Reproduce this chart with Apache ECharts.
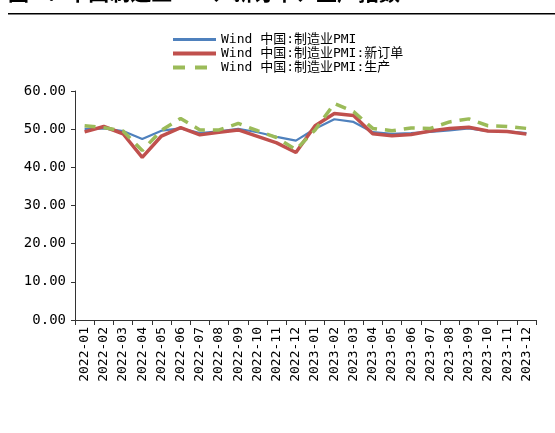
<!DOCTYPE html>
<html>
<head>
<meta charset="utf-8">
<script src="https://cdn.jsdelivr.net/npm/echarts@6/dist/echarts.min.js"></script>
<style>
  html, body { margin: 0; padding: 0; background: #fff; }
  #chart { width: 555px; height: 433px; }
</style>
</head>
<body>
<div id="chart"></div>
<script>
// Monthly categories
const months = [
  '2022-01','2022-02','2022-03','2022-04','2022-05','2022-06',
  '2022-07','2022-08','2022-09','2022-10','2022-11','2022-12',
  '2023-01','2023-02','2023-03','2023-04','2023-05','2023-06',
  '2023-07','2023-08','2023-09','2023-10','2023-11','2023-12'
];
// Manufacturing PMI
const pmi = [50.1, 50.2, 49.5, 47.4, 49.6, 50.2, 49.0, 49.4, 50.1, 49.2, 48.0, 47.0,
             50.1, 52.6, 51.9, 49.2, 48.8, 49.0, 49.3, 49.7, 50.2, 49.5, 49.4, 49.0];
// New orders sub-index
const newOrders = [49.3, 50.7, 48.8, 42.6, 48.2, 50.4, 48.5, 49.2, 49.8, 48.1, 46.4, 43.9,
                   50.9, 54.1, 53.6, 48.8, 48.3, 48.6, 49.5, 50.2, 50.5, 49.5, 49.4, 48.7];
// Production sub-index
const production = [50.9, 50.4, 49.5, 44.4, 49.7, 52.8, 49.8, 49.8, 51.5, 49.6, 47.8, 44.6,
                    49.8, 56.7, 54.6, 50.2, 49.6, 50.3, 50.2, 51.9, 52.7, 50.9, 50.7, 50.2];
// Series names
const names = ['Wind 中国:制造业PMI', 'Wind 中国:制造业PMI:新订单', 'Wind 中国:制造业PMI:生产'];
const titleText = '图 3：中国制造业PMI、新订单、生产指数';

const font = '"DejaVu Sans Mono", "Noto Sans CJK SC", monospace';
const cjk = '"Noto Sans CJK SC", sans-serif';
const chart = echarts.init(document.getElementById('chart'), null, { renderer: 'canvas' });

chart.setOption({
  animation: false,
  backgroundColor: '#ffffff',
  graphic: [
    {
      type: 'text', left: 8, top: -18,
      style: { text: titleText, font: 'bold 21px ' + cjk, fill: '#000' }
    },
    {
      type: 'rect', shape: { x: 8, y: 13, width: 547, height: 1.5 },
      style: { fill: '#000' }
    }
  ],
  legend: {
    orient: 'vertical',
    left: 166, top: 28,
    itemWidth: 43, itemHeight: 14, itemGap: 1,
    itemStyle: { opacity: 0 },
    textStyle: { fontFamily: font, fontSize: 13, color: '#000' },
    data: [
      { name: names[0], lineStyle: { width: 3 } },
      { name: names[1], lineStyle: { width: 4 } },
      { name: names[2], lineStyle: { width: 4, type: [12, 10] } }
    ]
  },
  grid: { left: 75, right: 19, top: 91, bottom: 113 },
  xAxis: {
    type: 'category',
    data: months,
    boundaryGap: true,
    axisLine: { lineStyle: { color: '#333', width: 1 } },
    axisTick: { show: true, length: 5, interval: 0, lineStyle: { color: '#333' } },
    axisLabel: { rotate: 90, interval: 0, fontFamily: font, fontSize: 13, color: '#000', margin: 7 },
    splitLine: { show: false }
  },
  yAxis: {
    type: 'value',
    min: 0, max: 60, interval: 10,
    axisLine: { show: true, lineStyle: { color: '#333', width: 1 } },
    axisTick: { show: true, length: 4, lineStyle: { color: '#333' } },
    axisLabel: {
      fontFamily: font, fontSize: 14, color: '#000', margin: 9,
      formatter: v => v.toFixed(2)
    },
    splitLine: { show: false }
  },
  series: [
    {
      name: names[0], type: 'line', data: pmi, symbol: 'none',
      lineStyle: { color: '#4F81BD', width: 2.2 }, itemStyle: { color: '#4F81BD' }
    },
    {
      name: names[1], type: 'line', data: newOrders, symbol: 'none',
      lineStyle: { color: '#C0504D', width: 3.5 }, itemStyle: { color: '#C0504D' }
    },
    {
      name: names[2], type: 'line', data: production, symbol: 'none',
      lineStyle: { color: '#9BBB59', width: 3.5, type: [11, 8] }, itemStyle: { color: '#9BBB59' }
    }
  ]
});
</script>
</body>
</html>
